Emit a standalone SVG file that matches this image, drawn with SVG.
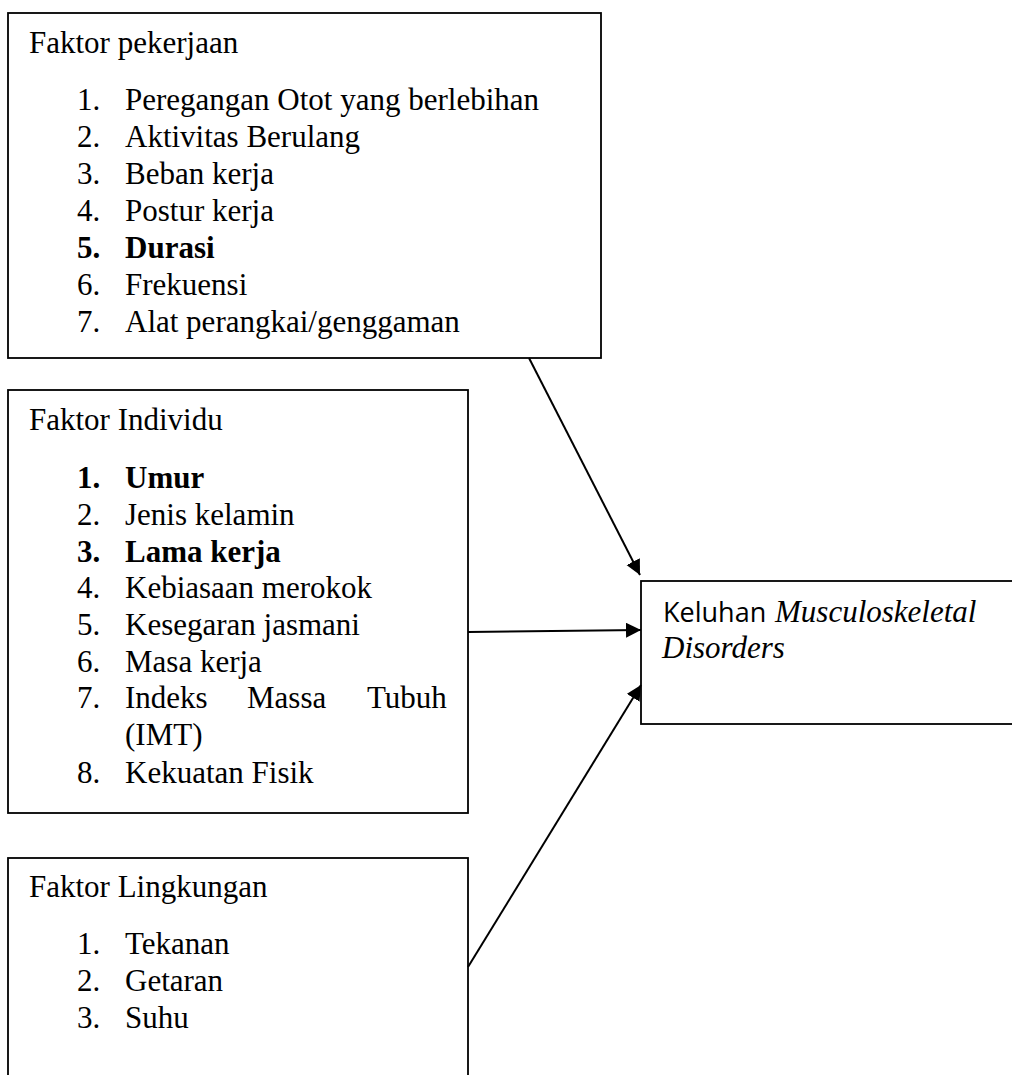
<svg xmlns="http://www.w3.org/2000/svg" width="1012" height="1075" viewBox="0 0 1012 1075">
<style>
.box{fill:#fff;stroke:#000;stroke-width:1.8}
.t{font-family:"Liberation Serif","Times New Roman",serif;font-size:31px;fill:#000}
.b{font-weight:bold}
.s{font-family:"Open Sans","Noto Sans",sans-serif;font-size:27px;fill:#000}
.i{font-family:"Liberation Serif","Times New Roman",serif;font-style:italic;font-size:31px;fill:#000}
.c{stroke:#000;stroke-width:2;fill:none}
</style>
<defs>
<marker id="ah" markerUnits="userSpaceOnUse" markerWidth="16" markerHeight="16" refX="15" refY="7.5" orient="auto">
<path d="M0,0 L15,7.5 L0,15 z" fill="#000"/>
</marker>
</defs>
<rect width="1012" height="1075" fill="#fff"/>
<g id="faktor-pekerjaan">
<rect class="box" x="8" y="13" width="593" height="345"/>
<text class="t" x="29" y="53">Faktor pekerjaan</text>
<text class="t" x="77" y="110">1.</text><text class="t" x="125" y="110">Peregangan Otot yang berlebihan</text>
<text class="t" x="77" y="147">2.</text><text class="t" x="125" y="147">Aktivitas Berulang</text>
<text class="t" x="77" y="184">3.</text><text class="t" x="125" y="184">Beban kerja</text>
<text class="t" x="77" y="221">4.</text><text class="t" x="125" y="221">Postur kerja</text>
<text class="t b" x="77" y="258">5.</text><text class="t b" x="125" y="258">Durasi</text>
<text class="t" x="77" y="295">6.</text><text class="t" x="125" y="295">Frekuensi</text>
<text class="t" x="77" y="332">7.</text><text class="t" x="125" y="332">Alat perangkai/genggaman</text>
</g>
<g id="faktor-individu">
<rect class="box" x="8" y="390" width="460" height="423"/>
<text class="t" x="29" y="430">Faktor Individu</text>
<text class="t b" x="77" y="488">1.</text><text class="t b" x="125" y="488">Umur</text>
<text class="t" x="77" y="525">2.</text><text class="t" x="125" y="525">Jenis kelamin</text>
<text class="t b" x="77" y="562">3.</text><text class="t b" x="125" y="562">Lama kerja</text>
<text class="t" x="77" y="598">4.</text><text class="t" x="125" y="598">Kebiasaan merokok</text>
<text class="t" x="77" y="635">5.</text><text class="t" x="125" y="635">Kesegaran jasmani</text>
<text class="t" x="77" y="672">6.</text><text class="t" x="125" y="672">Masa kerja</text>
<text class="t" x="77" y="708">7.</text><text class="t" y="708"><tspan x="125">Indeks</tspan><tspan x="247">Massa</tspan><tspan x="367">Tubuh</tspan></text>
<text class="t" x="125" y="745">(IMT)</text>
<text class="t" x="77" y="783">8.</text><text class="t" x="125" y="783">Kekuatan Fisik</text>
</g>
<g id="faktor-lingkungan">
<rect class="box" x="8" y="858" width="460" height="240"/>
<text class="t" x="29" y="897">Faktor Lingkungan</text>
<text class="t" x="77" y="954">1.</text><text class="t" x="125" y="954">Tekanan</text>
<text class="t" x="77" y="991">2.</text><text class="t" x="125" y="991">Getaran</text>
<text class="t" x="77" y="1028">3.</text><text class="t" x="125" y="1028">Suhu</text>
</g>
<g id="keluhan-msd">
<rect class="box" x="641" y="581" width="390" height="143"/>
<text x="663" y="622"><tspan class="s">Keluhan </tspan><tspan class="i" x="775">Musculoskeletal</tspan></text>
<text class="i" x="662" y="658">Disorders</text>
</g>
<g id="connectors">
<line class="c" x1="529" y1="358" x2="640" y2="575" marker-end="url(#ah)"/>
<line class="c" x1="468" y1="632" x2="641" y2="630" marker-end="url(#ah)"/>
<line class="c" x1="468" y1="967" x2="641" y2="685" marker-end="url(#ah)"/>
</g>
</svg>
